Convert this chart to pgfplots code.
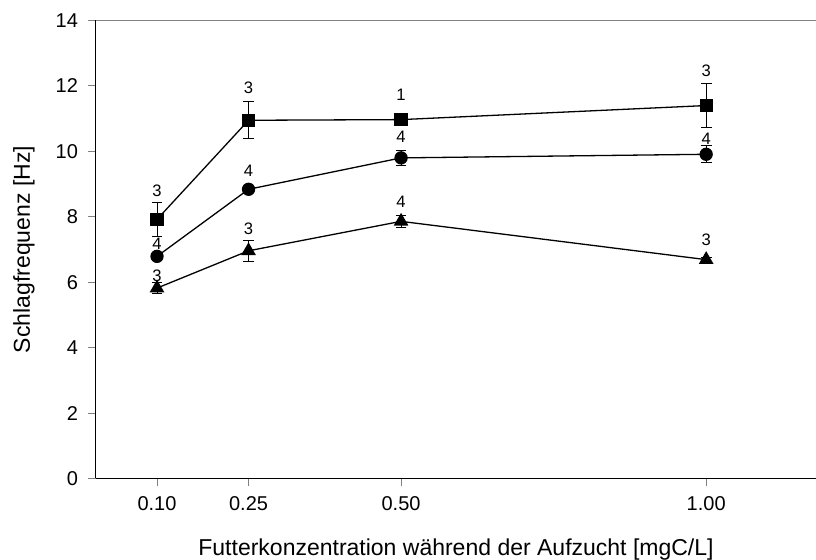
\documentclass[border=0pt]{standalone}
\usepackage{pgfplots}
\usepackage{pgfplotstable}
\pgfplotsset{compat=1.18}
\usepackage{fontspec}
\setmainfont{Liberation Sans}

% n = Anzahl Tiere, ly = Hoehe der Beschriftung
\pgfplotstableread{
x y e ly n
0.10 7.92 0.52 8.79 3
0.25 10.95 0.56 11.94 3
0.50 10.97 0 11.74 1
1.00 11.40 0.67 12.47 3
}\sq
\pgfplotstableread{
x y e ly n
0.10 6.79 0.10 7.18 4
0.25 8.84 0.10 9.42 4
0.50 9.80 0.22 10.46 4
1.00 9.91 0.26 10.37 4
}\ci
\pgfplotstableread{
x y e ly n
0.10 5.82 0.18 6.21 3
0.25 6.96 0.33 7.62 3
0.50 7.86 0.19 8.47 4
1.00 6.69 0.08 7.31 3
}\tr

\begin{document}
\begin{tikzpicture}
\useasboundingbox (-48pt,-40.75pt) rectangle (360pt,239.25pt);
\begin{axis}[
    width=360pt, height=229pt, scale only axis,
    xmin=0, xmax=1.18, ymin=0, ymax=14,
    axis x line*=bottom, axis y line*=left,
    axis line style={line width=0.5pt, -},
    xtick={0.1,0.25,0.5,1},
    xticklabels={0.10,0.25,0.50,1.00},
    ytick={0,2,...,14},
    tick align=outside,
    major tick length=4pt,
    tick style={gray, line width=0.5pt},
    /pgf/number format/assume math mode=true,
    ticklabel style={font=\fontsize{10}{12}\selectfont},
    yticklabel style={xshift=-1.5pt},
    xticklabel style={yshift=-1.5pt},
    xlabel={Futterkonzentration während der Aufzucht [mgC/L]},
    ylabel={Schlagfrequenz [Hz]},
    label style={font=\fontsize{11.5}{13}\selectfont},
    xlabel style={at={([yshift=-35.5pt]axis description cs:0.5,0)}, anchor=center},
    ylabel style={at={([xshift=-36pt]axis description cs:0,0.5)}, anchor=center, rotate=0},
    clip=false,
    every axis plot/.append style={line width=0.65pt, black},
    error bars/y dir=both, error bars/y explicit,
    error bars/error mark options={rotate=90, mark size=2.7pt, line width=0.5pt},
    error bars/error bar style={line width=0.5pt},
    nodes near coords style={font=\fontsize{8.3}{9}\selectfont, anchor=center, black},
]
\addplot[mark=square*, mark size=3pt, mark options={solid}] table[x=x, y=y, y error=e] {\sq};
\addplot[mark=*, mark size=3pt] table[x=x, y=y, y error=e] {\ci};
\addplot[mark=triangle*, mark size=3.6pt] table[x=x, y=y, y error=e] {\tr};

\addplot[draw=none, mark=none, forget plot, error bars/y dir=none, nodes near coords, point meta=explicit symbolic] table[x=x, y=ly, meta=n] {\sq};
\addplot[draw=none, mark=none, forget plot, error bars/y dir=none, nodes near coords, point meta=explicit symbolic] table[x=x, y=ly, meta=n] {\ci};
\addplot[draw=none, mark=none, forget plot, error bars/y dir=none, nodes near coords, point meta=explicit symbolic] table[x=x, y=ly, meta=n] {\tr};

\draw[gray, line width=0.8pt] (rel axis cs:0,1) -- (rel axis cs:1,1);
\end{axis}
\end{tikzpicture}
\end{document}
